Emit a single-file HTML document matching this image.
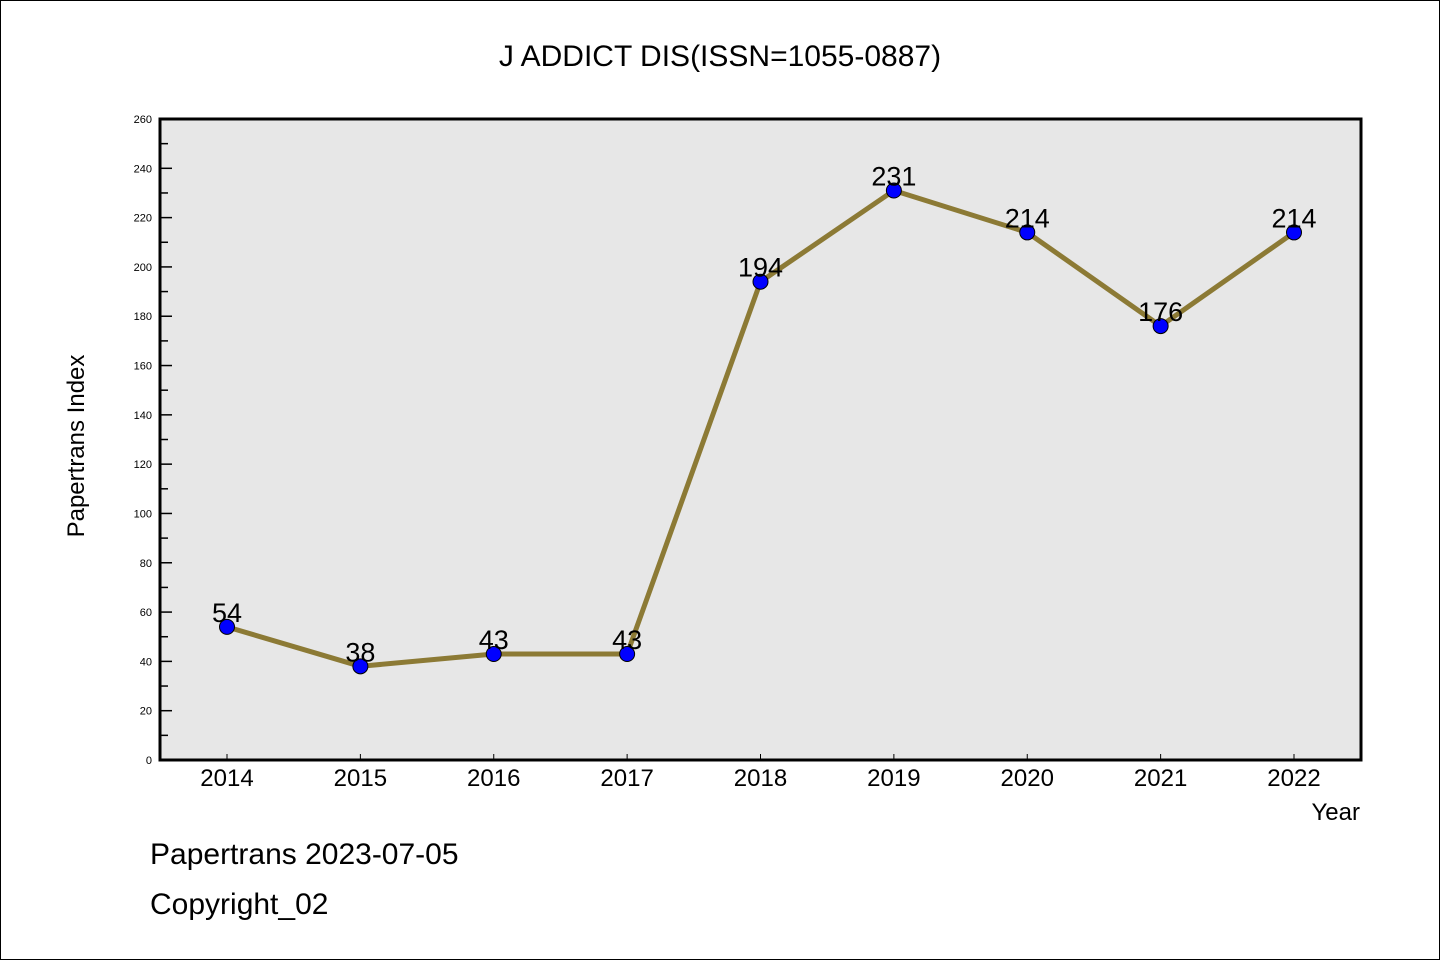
<!DOCTYPE html>
<html><head><meta charset="utf-8"><style>
body{margin:0;background:#fff}
svg{display:block}
text{font-family:"WenQuanYi Zen Hei","Liberation Sans",sans-serif}
</style></head><body>
<svg id="chart" width="1440" height="960" xmlns="http://www.w3.org/2000/svg">
<rect x="0.5" y="0.5" width="1439" height="959" fill="#fff" stroke="#000" stroke-width="1"/>
<text x="720" y="66" font-size="30" text-anchor="middle">J ADDICT DIS(ISSN=1055-0887)</text>
<rect x="160" y="119" width="1201" height="641" fill="#e7e7e7"/>
<g id="yticks"></g><g id="xticks"></g>
<rect x="160" y="119" width="1201" height="641" fill="none" stroke="#000" stroke-width="3"/>
<g id="series"></g>
<text transform="translate(84,446) rotate(-90)" font-size="24" text-anchor="middle">Papertrans Index</text>
<text x="1360" y="820" font-size="24" text-anchor="end">Year</text>
<text x="150" y="864" font-size="30">Papertrans 2023-07-05</text>
<text x="150" y="914" font-size="30">Copyright_02</text>
</svg>
<script>
const years = ["2014","2015","2016","2017","2018","2019","2020","2021","2022"];
const values = [54,38,43,43,194,231,214,176,214];
const yTickLabels = [0,20,40,60,80,100,120,140,160,180,200,220,240,260];
const NS="http://www.w3.org/2000/svg";
const y0=760,y1=119,yMax=260;
const yScale=v=>y0-(v/yMax)*(y0-y1);
const xScale=i=>227+i*(1294-227)/(years.length-1);
function mk(t,a,p){const e=document.createElementNS(NS,t);for(const k in a)e.setAttribute(k,a[k]);p.appendChild(e);return e;}
const yt=document.getElementById('yticks');
yTickLabels.forEach(v=>{
  const y=yScale(v);
  const l=mk('line',{x1:160,x2:172,y1:y,y2:y,stroke:'#000','stroke-width':1.5},yt);
  
  
  const t=mk('text',{x:152,y:y+4,'font-size':11,'text-anchor':'end'},yt);
  t.textContent=v;
  
  
  if(v<yMax){const m=yScale(v+10);
    const ml=mk('line',{x1:160,x2:168,y1:m,y2:m,stroke:'#000','stroke-width':1.5},yt);
    
    }
});
const xt=document.getElementById('xticks');
years.forEach((yr,i)=>{
  const x=xScale(i);
  const l=mk('line',{x1:x,x2:x,y1:754,y2:760,stroke:'#000','stroke-width':1},xt);
  
  
  const t=mk('text',{x:x,y:786,'font-size':24,'text-anchor':'middle'},xt);
  t.textContent=yr;
  
  
});
const s=document.getElementById('series');
const pts=values.map((v,i)=>xScale(i)+','+yScale(v)).join(' ');
const pl=mk('polyline',{points:pts,fill:'none',stroke:'#8c7a35','stroke-width':5,'stroke-linejoin':'round'},s);


values.forEach((v,i)=>{
  const c=mk('circle',{cx:xScale(i),cy:yScale(v),r:7.5,fill:'#0000ff',stroke:'#000','stroke-width':1},s);
  
  
  const t=mk('text',{x:xScale(i),y:yScale(v)-5,'font-size':27,'text-anchor':'middle'},s);
  t.textContent=v;
  
  
});
</script>
</body></html>
